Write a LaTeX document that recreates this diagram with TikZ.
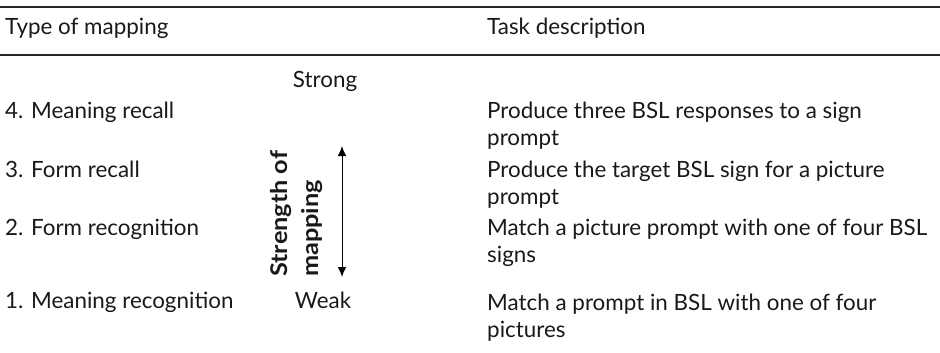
\documentclass[tikz,border=0pt]{standalone}
\usepackage{fontspec}
\setmainfont{Lato}
\newfontfamily\widebold{Lato}[FakeStretch=1.1]
\usetikzlibrary{arrows.meta}

\begin{document}
\begin{tikzpicture}[x=1pt,y=-1pt,
		every node/.style={inner sep=0pt, text=black!90, font=\fontsize{22.4}{27}\selectfont},
		rule/.style={line width=1.1pt, black!85}]
		\useasboundingbox (0,0) rectangle (940,353);
		\draw [rule] (0,7) -- (940,7);
		\draw [rule] (0,55) -- (940,55);
		\node[anchor=base west] (typehead) at (5,35) {Type of mapping};
		\node[anchor=base west] (taskhead) at (487,35) {Task description};
		
		\foreach \y/\name/\txt in {118/map4/{4. Meaning recall}, 177/map3/{3. Form recall}, 235/map2/{2. Form recognition}, 308/map1/{1. Meaning recognition}}
			\node[anchor=base west] (\name) at (5,\y) {\txt};
		
		% base of a two-line node is the baseline of its last line
		\node[anchor=base west, align=left] (task4) at (487,145) {Produce three BSL responses to a sign\\prompt};
		\node[anchor=base west, align=left] (task3) at (487,204) {Produce the target BSL sign for a picture\\prompt};
		\node[anchor=base west, align=left] (task2) at (487,262) {Match a picture prompt with one of four BSL\\signs};
		\node[anchor=base west, align=left] (task1) at (487,337) {Match a prompt in BSL with one of four\\pictures};
		
		\node[anchor=base] (strong) at (325,88) {Strong};
		\node[anchor=base] (weak) at (323,308) {Weak};
		\node[rotate=90, anchor=base west, align=left, font=\fontsize{23}{31}\widebold\bfseries] (strength) at (318,277) {Strength of\\mapping};
		
		\coordinate (arrtop) at (342,146);
		\coordinate (arrbot) at (342,277);
		\draw [{Latex[length=10pt,width=8.5pt]}-{Latex[length=10pt,width=8.5pt]}, line width=1pt] (arrbot) -- (arrtop);
	\end{tikzpicture}
\end{document}
